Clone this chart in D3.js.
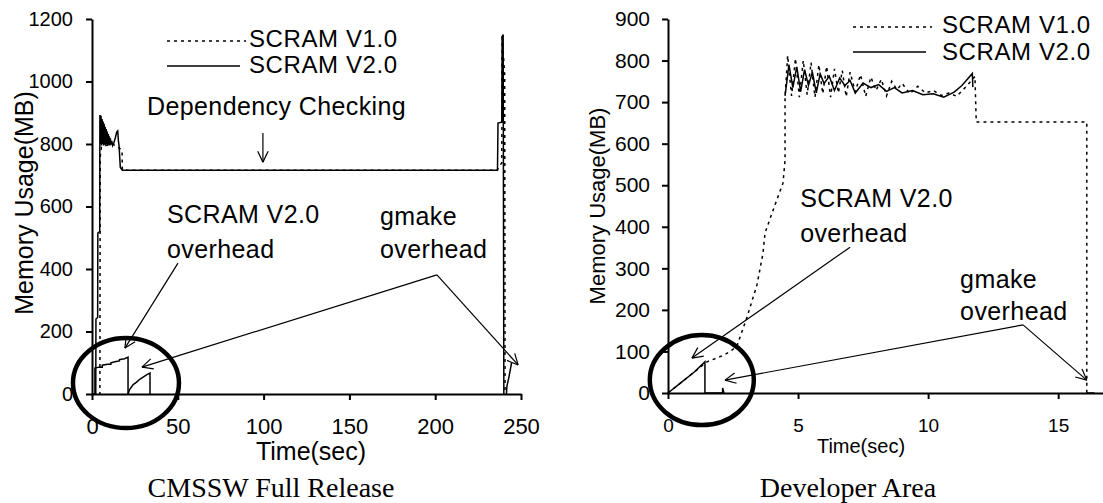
<!DOCTYPE html>
<html lang="en">

<head>
    <meta charset="UTF-8">
    <title>SCRAM memory usage</title>
    <style>
        body {
            margin: 0;
            background: #fff;
            overflow: hidden;
        }

        svg {
            display: block;
        }

        text {
            font-family: "Liberation Sans", Arial, sans-serif;
            fill: #000;
        }

        .caption {
            font-family: "Liberation Serif", "Times New Roman", serif;
        }
    </style>
</head>

<body>
    <svg width="1103" height="503"></svg>

    <script src="https://d3js.org/d3.v7.min.js"></script>
    <script>
        // ---- CMSSW full release: [time (sec), memory (MB)]
        const releaseV1 = [[0, 0], [4.6, 0], [4.7, 400], [4.8, 760], [5.5, 790], [8, 795], [12, 800], [15, 790],
            [17.5, 780], [17.7, 716], [236, 716], [238.8, 740], [239, 1150], [240.5, 1020], [240.7, 0]];
        const releaseV2 = [[0, 0], [2.2, 0], [2.3, 240], [3.3, 245], [3.4, 515], [4.5, 520], [4.6, 893], [5.0, 800],
            [5.3, 890], [5.6, 795], [5.9, 880], [6.2, 800], [6.5, 872], [6.8, 795], [7.1, 865], [7.4, 798],
            [7.7, 855], [8.0, 795], [8.3, 848], [8.6, 800], [8.9, 840], [9.2, 795], [9.5, 832], [9.8, 798],
            [10.1, 825], [10.4, 795], [10.7, 818], [11.0, 798], [11.5, 810], [12.0, 795], [12.8, 805], [13.6, 820],
            [14.4, 838], [15.0, 842], [15.4, 810], [15.8, 792], [16.5, 725], [17.7, 716], [236.3, 716],
            [236.6, 867], [238.8, 870], [239, 1142], [239.6, 1150], [240, 0]];
        const releaseScramOverhead = [[1.7, 0], [1.7, 83], [4, 86], [6, 86], [6, 92], [9, 95], [11, 95], [11, 100],
            [14, 104], [16, 106], [16, 110], [19, 113], [21, 118], [21, 0]];
        const releaseGmakeOverhead = [[21, 0], [22, 15], [24, 30], [26, 38], [28, 48], [30, 55], [32, 62],
            [33.8, 67], [33.8, 0]];
        const releaseGmakeEnd = [[241.5, 0], [241.8, 25], [243, 55], [244.5, 100]];
        const releaseXTicks = [0, 50, 100, 150, 200, 250];
        const releaseYTicks = [0, 200, 400, 600, 800, 1000, 1200];

        // ---- developer area: [time (sec), memory (MB)]
        const devV1 = [[0, 0], [0.5, 25], [1, 50], [1.5, 75], [2.1, 90], [2.4, 100], [2.65, 113], [3.04, 183],
            [3.42, 260], [3.65, 336], [3.73, 385], [4.04, 440], [4.42, 505], [4.5, 560], [4.5, 712],
            [4.6, 812], [4.75, 715], [4.9, 805], [5.05, 712], [5.2, 800], [5.35, 718], [5.5, 795], [5.65, 712],
            [5.8, 790], [5.95, 720], [6.1, 786], [6.25, 712], [6.4, 780], [6.55, 722], [6.7, 776], [6.85, 713],
            [7.0, 772], [7.2, 725], [7.4, 766], [7.6, 714], [7.8, 760], [8.0, 728], [8.2, 755], [8.4, 715],
            [8.6, 750], [8.8, 730], [9.0, 745], [9.3, 720], [9.6, 738], [9.9, 722], [10.2, 728], [10.5, 716],
            [10.8, 722], [11.1, 714], [11.5, 740], [11.8, 762], [11.85, 652], [16.1, 652], [16.1, 0]];
        const devV2 = [[4.5, 715], [4.65, 790], [4.8, 735], [4.95, 785], [5.1, 725], [5.25, 778], [5.4, 740],
            [5.55, 772], [5.7, 722], [5.85, 768], [6.0, 745], [6.2, 762], [6.4, 728], [6.6, 758], [6.8, 740],
            [7.0, 752], [7.2, 722], [7.5, 746], [7.8, 735], [8.1, 742], [8.4, 726], [8.7, 735], [9.0, 722],
            [9.4, 728], [9.8, 718], [10.2, 720], [10.6, 712], [11.0, 724], [11.3, 740], [11.7, 769], [11.72, 736]];
        const devScramOverhead = [[0, 0], [0.5, 25], [1, 50], [1.42, 75], [1.42, 0], [2.1, 0], [2.1, 12], [2.15, 0]];
        const devGmakeOverhead = [[16.1, 0], [16.4, 0]];
        const devXTicks = [0, 5, 10, 15];
        const devYTicks = [0, 100, 200, 300, 400, 500, 600, 700, 800, 900];

        const svg = d3.select("svg");

        const panels = [
            {
                xDomain: [0, 250], xRange: [92, 521], yDomain: [0, 1200], yRange: [394, 19],
                xTicks: releaseXTicks, yTicks: releaseYTicks,
                xFont: 22, yFont: 20, xPad: 18, yPad: 13,
                v1: releaseV1, v2: releaseV2, extra: [releaseScramOverhead, releaseGmakeOverhead, releaseGmakeEnd],
                ring: [19.8, 35, 53, 45],
                xTitle: { text: "Time(sec)", x: 311, y: 460, size: 25 },
                yTitle: { x: 33, y: 203, size: 25 },
                legend: { x1: 167, x2: 246, tx: 249, y: [41, 66], ty: [47, 73], size: 24 },
                notes: [
                    { text: "Dependency Checking", at: [32.05, 893] },
                    { text: "SCRAM V2.0", at: [43.7, 547] },
                    { text: "overhead", at: [43.7, 435] },
                    { text: "gmake", at: [167.8, 541] },
                    { text: "overhead", at: [167.8, 435] }
                ],
                arrows: [
                    [[99.6, 835], [99.6, 742]],
                    [[50.1, 419], [19.2, 147]],
                    [[201, 381], [29.1, 86]],
                    [[201, 381], [248.3, 93]]
                ],
                caption: { text: "CMSSW Full Release", x: 271 }
            },
            {
                xDomain: [0, 16.8], xRange: [668, 1105], yDomain: [0, 900], yRange: [393, 19],
                xTicks: devXTicks, yTicks: devYTicks,
                xFont: 19, yFont: 21, xPad: 20, yPad: 12,
                v1: devV1, v2: devV2, extra: [devScramOverhead, devGmakeOverhead],
                ring: [1.3, 31, 52, 45],
                xTitle: { text: "Time(sec)", x: 861, y: 453, size: 20 },
                yTitle: { x: 605, y: 206, size: 22 },
                legend: { x1: 853, x2: 932, tx: 942, y: [27, 52], ty: [33, 60], size: 24 },
                notes: [
                    { text: "SCRAM V2.0", at: [5.08, 447.5] },
                    { text: "overhead", at: [5.08, 363] },
                    { text: "gmake", at: [11.23, 252.6] },
                    { text: "overhead", at: [11.23, 175.6] }
                ],
                arrows: [
                    [[7.0, 351], [0.92, 84]],
                    [[13.65, 164], [2.19, 31]],
                    [[13.65, 164], [16.1, 31]]
                ],
                caption: { text: "Developer Area", x: 848 }
            }
        ];

        function drawPanel(p) {
            const g = svg.append("g");
            const x = d3.scaleLinear().domain(p.xDomain).range(p.xRange);
            const y = d3.scaleLinear().domain(p.yDomain).range(p.yRange);
            const line = d3.line().x(d => x(d[0])).y(d => y(d[1]));

            // axes
            const xAxis = g.append("g")
                .attr("transform", `translate(0,${p.yRange[0]})`)
                .call(d3.axisBottom(x).tickValues(p.xTicks).tickFormat(d3.format("d"))
                    .tickSize(6).tickSizeOuter(0).tickPadding(p.xPad));
            const yAxis = g.append("g")
                .attr("transform", `translate(${p.xRange[0]},0)`)
                .call(d3.axisLeft(y).tickValues(p.yTicks).tickFormat(d3.format("d"))
                    .tickSize(6).tickSizeOuter(0).tickPadding(p.yPad));
            [xAxis, yAxis].forEach(a => a.selectAll("path,line").attr("stroke-width", 2));
            xAxis.selectAll("text").style("font-size", p.xFont + "px");
            yAxis.selectAll("text").style("font-size", p.yFont + "px");

            // series
            g.append("path").datum(p.v1)
                .attr("d", line).attr("fill", "none").attr("stroke", "#000")
                .attr("stroke-width", 1.5).attr("stroke-dasharray", "3,4");
            g.append("path").datum(p.v2)
                .attr("d", line).attr("fill", "none").attr("stroke", "#000")
                .attr("stroke-width", 1.5);
            g.selectAll(".extra").data(p.extra).join("path")
                .attr("class", "extra")
                .attr("d", line).attr("fill", "none").attr("stroke", "#000")
                .attr("stroke-width", 1.5);

            // circled overhead region
            g.append("ellipse")
                .attr("cx", x(p.ring[0])).attr("cy", y(p.ring[1]))
                .attr("rx", p.ring[2]).attr("ry", p.ring[3])
                .attr("fill", "none").attr("stroke", "#000").attr("stroke-width", 4.5);

            // annotation arrows
            p.arrows.forEach(([a, b]) => {
                const x1 = x(a[0]), y1 = y(a[1]), x2 = x(b[0]), y2 = y(b[1]);
                const ang = Math.atan2(y2 - y1, x2 - x1);
                g.append("line")
                    .attr("x1", x1).attr("y1", y1).attr("x2", x2).attr("y2", y2)
                    .attr("stroke", "#000").attr("stroke-width", 1.2);
                [-0.45, 0.45].forEach(da => {
                    g.append("line")
                        .attr("x1", x2).attr("y1", y2)
                        .attr("x2", x2 - 12 * Math.cos(ang + da))
                        .attr("y2", y2 - 12 * Math.sin(ang + da))
                        .attr("stroke", "#000").attr("stroke-width", 1.2);
                });
            });

            g.selectAll(".note").data(p.notes).join("text")
                .attr("class", "note")
                .attr("x", d => x(d.at[0])).attr("y", d => y(d.at[1]))
                .style("font-size", "25px")
                .style("letter-spacing", "0.4px")
                .text(d => d.text);

            // legend
            const lg = p.legend;
            ["3,4", null].forEach((dash, i) => {
                g.append("line")
                    .attr("x1", lg.x1).attr("x2", i ? lg.x2 - 6 : lg.x2)
                    .attr("y1", lg.y[i]).attr("y2", lg.y[i])
                    .attr("stroke", "#000").attr("stroke-width", 1.5)
                    .attr("stroke-dasharray", dash);
                g.append("text")
                    .attr("x", lg.tx).attr("y", lg.ty[i])
                    .style("font-size", lg.size + "px")
                    .style("letter-spacing", "0.6px")
                    .text(i ? "SCRAM V2.0" : "SCRAM V1.0");
            });

            // axis titles and caption
            g.append("text")
                .attr("x", p.xTitle.x).attr("y", p.xTitle.y)
                .attr("text-anchor", "middle")
                .style("font-size", p.xTitle.size + "px")
                .text(p.xTitle.text);
            g.append("text")
                .attr("transform", `translate(${p.yTitle.x},${p.yTitle.y}) rotate(-90)`)
                .attr("text-anchor", "middle")
                .style("font-size", p.yTitle.size + "px")
                .text("Memory Usage(MB)");
            g.append("text")
                .attr("class", "caption")
                .attr("x", p.caption.x).attr("y", 497)
                .attr("text-anchor", "middle")
                .style("font-size", "28px")
                .text(p.caption.text);
        }

        panels.forEach(drawPanel);
    </script>
</body>

</html>
